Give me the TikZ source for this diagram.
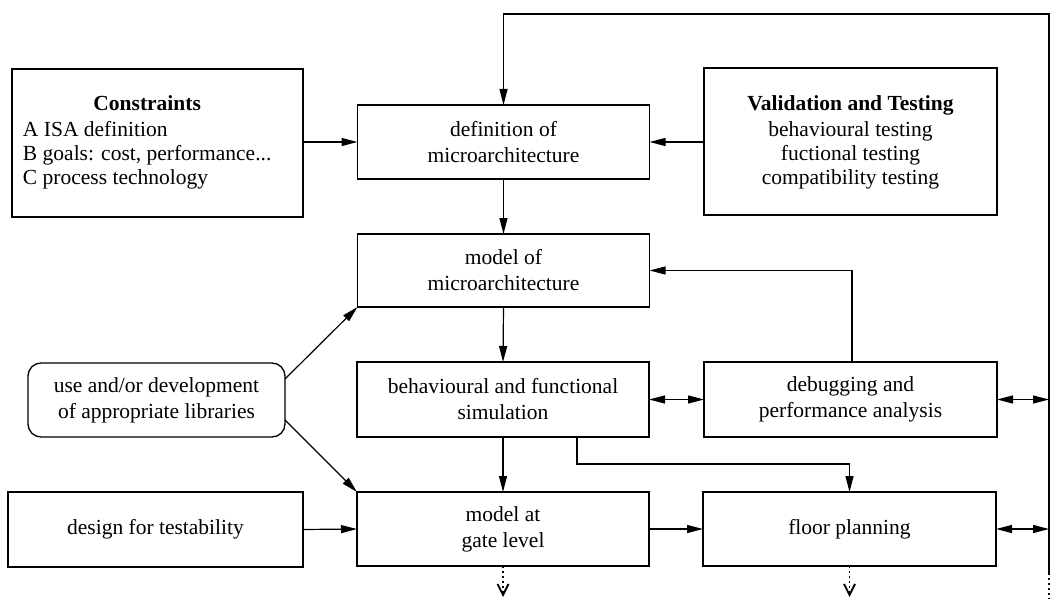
\documentclass[tikz,border=0pt]{standalone}
\usepackage{fontspec}
\setmainfont{Liberation Serif}
\usetikzlibrary{arrows.meta,calc}
\begin{document}
\begin{tikzpicture}[x=1pt,y=-1pt,
  font=\fontsize{21.5}{26}\selectfont,
  box/.style={draw,line width=1.3pt,minimum width=292pt,minimum height=74pt,
    align=center,inner sep=0pt,outer sep=0pt},
  roundbox/.style={box,rounded corners=13pt,minimum width=257pt},
  txt/.style={inner sep=0pt,outer sep=0pt,font=\fontsize{21.5}{24}\selectfont},
  link/.style={line width=1.2pt},
  arr/.style={link,-{Triangle[length=16pt,width=8pt]}},
  dblarr/.style={link,{Triangle[length=16pt,width=8pt]}-{Triangle[length=16pt,width=8pt]}},
  dotarr/.style={line width=1.5pt,dash pattern=on 2pt off 3pt,
    -{Straight Barb[length=11pt,width=11pt,line width=1.8pt]}},
  dotline/.style={line width=1.5pt,dash pattern=on 2pt off 3pt}]
\useasboundingbox (0,0) rectangle (1050,599);

% left column
\node[box,minimum width=291pt,minimum height=148pt] (cons) at (157.5,143) {};
\node[txt,anchor=west] (constxt) at (23,143)
  {\begin{tabular}{@{}l@{}}
   \multicolumn{1}{@{}c@{}}{\textbf{Constraints}}\\[2pt]
   A ISA definition\\B goals: cost, performance...\\C process technology
   \end{tabular}};
\node[roundbox] (lib) at (156.5,400) {use and/or development\\of appropriate libraries};
\node[box,minimum width=295pt,minimum height=75pt] (design) at (155.5,529.5) {design for testability};

% middle column
\node[box] (def) at (503.5,142) {definition of\\microarchitecture};
\node[box,minimum height=73pt] (model) at (503.5,270.5) {model of\\microarchitecture};
\node[box,minimum height=75pt] (behav) at (503,399.5) {behavioural and functional\\simulation};
\node[box] (gate) at (503,529) {model at\\gate level};

% right column
\node[box,minimum width=293pt,minimum height=147pt] (val) at (850.5,141.5) {};
\node[txt,align=center] (valtxt) at (850.5,142)
  {\textbf{Validation and Testing}\\[2pt]
   behavioural testing\\fuctional testing\\compatibility testing};
\node[box,minimum width=293pt,minimum height=75pt] (debug) at (850.5,399.5) {debugging and\\performance analysis};
\node[box,minimum width=293pt] (floor) at (849.5,529) {floor planning};

% feedback bus on the right edge
\coordinate (rtop) at (1049,14);
\coordinate (rbot) at (1049,573);
\coordinate (rend) at (1049,599);

% connectors
\draw[arr] (cons.east |- def.west) -- (def.west);
\draw[arr] (val.west |- def.east) -- (def.east);
\draw[arr] (def.south) -- (model.north);
\draw[arr] (model.south) -- (behav.north);
\draw[arr] (behav.south) -- (gate.north);
\draw[arr] (gate.east) -- (floor.west);
\draw[arr] (design.east) -- (gate.west);
\draw[dblarr] (behav.east) -- (debug.west);
\draw[arr] (debug.north -| 852,0) |- (model.east);
\draw[arr] ($(behav.south east)+(-72,0)$) -- ++(0,27) -| (floor.north);
\draw[arr] ($(lib.north east)+(0,16)$) -- (model.south west);
\draw[arr] ($(lib.south east)+(0,-17)$) -- (gate.north west);

\draw[arr] (rbot) -- (rtop) -| (def.north);
\draw[dotline] (rbot) -- (rend);
\draw[dblarr] (debug.east) -- (debug.east -| rtop);
\draw[dblarr] (floor.east) -- (floor.east -| rtop);

\draw[dotarr] (gate.south) -- ++(0,31);
\draw[dotarr] (floor.south) -- ++(0,31);
\end{tikzpicture}
\end{document}
